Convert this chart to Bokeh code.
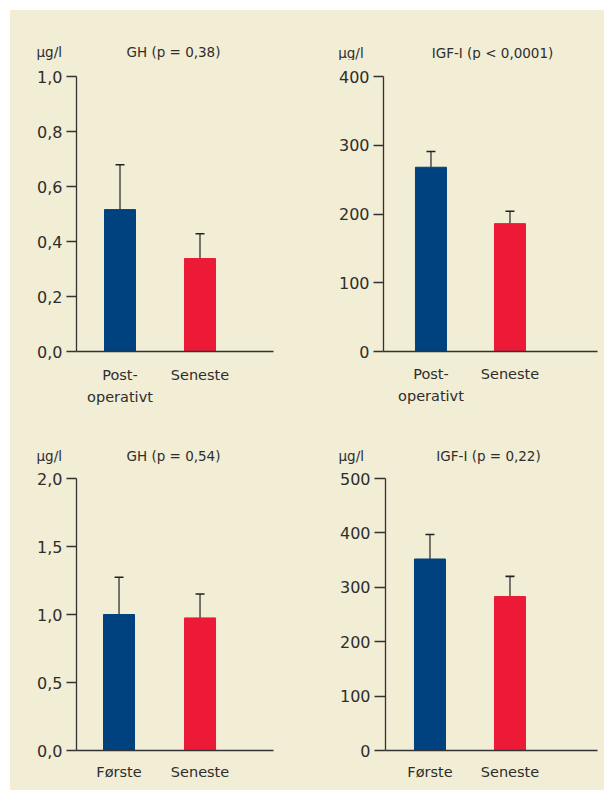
from bokeh.plotting import figure
from bokeh.models import ColumnDataSource, Whisker, TeeHead, FixedTicker, Spacer
from bokeh.core.properties import value
from bokeh.layouts import column, row
from bokeh.embed import file_html
from bokeh.resources import INLINE

# ---------------- data ----------------
cats_top = ["Post-\noperativt", "Seneste"]
cats_bottom = ["Første", "Seneste"]

gh_post_mean = [0.516, 0.338]
gh_post_err = [0.163, 0.090]
igf_post_mean = [268, 186]
igf_post_err = [23, 18]
gh_first_mean = [1.00, 0.975]
gh_first_err = [0.274, 0.176]
igf_first_mean = [352, 283]
igf_first_err = [45, 37]

gh_top_ticks = [0, 0.2, 0.4, 0.6, 0.8, 1.0]
gh_top_labels = ["0,0", "0,2", "0,4", "0,6", "0,8", "1,0"]
igf_top_ticks = [0, 100, 200, 300, 400]
igf_top_labels = ["0", "100", "200", "300", "400"]
gh_bot_ticks = [0, 0.5, 1.0, 1.5, 2.0]
gh_bot_labels = ["0,0", "0,5", "1,0", "1,5", "2,0"]
igf_bot_ticks = [0, 100, 200, 300, 400, 500]
igf_bot_labels = ["0", "100", "200", "300", "400", "500"]

unit = "µg/l"
titles = ["GH (p = 0,38)", "IGF-I (p < 0,0001)", "GH (p = 0,54)", "IGF-I (p = 0,22)"]

# ---------------- style ----------------
BG = "#F2EDD5"
BAR_COLORS = ["#00417F", "#EC1A36"]
INK = "#2d2d2d"
AXIS = "#333333"
FONT = "DejaVu Sans"


def header(title, w, h, unit_x, title_x, base_y):
    """Small strip above a panel holding the unit and the test name (pixel coords)."""
    p = figure(width=w, height=h, output_backend="svg", toolbar_location=None,
               x_range=(0, w), y_range=(0, h), x_axis_location=None, y_axis_location=None)
    p.min_border = 0
    p.background_fill_color = None
    p.border_fill_color = None
    p.outline_line_color = None
    p.xgrid.visible = False
    p.ygrid.visible = False
    p.text(x=[unit_x], y=[base_y], text=[unit], text_align="left", text_baseline="alphabetic",
           text_font=value(FONT), text_font_size="13.5px", text_color=INK)
    p.text(x=[title_x], y=[base_y], text=[title], text_align="center",
           text_baseline="alphabetic", text_font=value(FONT), text_font_size="13.5px",
           text_color=INK)
    return p


def panel(cats, means, errs, ticks, tick_labels, w, h, left, right, top, bottom,
          x_start, x_end, xlab_standoff, tick_out=10):
    ymax = ticks[-1]
    frame_w = w - left - right
    xscale = frame_w / (x_end - x_start)

    p = figure(width=w, height=h, output_backend="svg", toolbar_location=None,
               x_range=(x_start, x_end), y_range=(0, ymax))
    p.min_border = 0
    p.min_border_left = left
    p.min_border_right = right
    p.min_border_top = top
    p.min_border_bottom = bottom
    p.background_fill_color = None
    p.border_fill_color = None
    p.outline_line_color = None
    p.xgrid.visible = False
    p.ygrid.visible = False

    xs = [i + 1 for i in range(len(cats))]
    src = ColumnDataSource(dict(x=xs, top=means, upper=[m + e for m, e in zip(means, errs)],
                                color=BAR_COLORS[:len(cats)]))
    p.vbar(x="x", top="top", bottom=0, width=31 / xscale, color="color", source=src)
    wh = Whisker(base="x", lower="top", upper="upper", source=src,
                 line_color=AXIS, line_width=1.3,
                 upper_head=TeeHead(size=9, line_color="#222222", line_width=1.6),
                 lower_head=None)
    p.add_layout(wh)

    ya = p.yaxis[0]
    ya.ticker = FixedTicker(ticks=ticks)
    ya.major_label_overrides = {t: l for t, l in zip(ticks, tick_labels)}
    ya.minor_tick_line_color = None
    ya.major_tick_in = 0
    ya.major_tick_out = tick_out
    ya.major_label_standoff = 4
    ya.axis_line_color = AXIS
    ya.axis_line_width = 1.3
    ya.major_tick_line_color = AXIS
    ya.major_tick_line_width = 1.3
    ya.major_label_text_font = FONT
    ya.major_label_text_font_size = "16px"
    ya.major_label_text_color = INK

    xa = p.xaxis[0]
    xa.ticker = FixedTicker(ticks=xs)
    xa.major_label_overrides = {x: c for x, c in zip(xs, cats)}
    xa.minor_tick_line_color = None
    xa.major_tick_in = 0
    xa.major_tick_out = 0
    xa.major_label_standoff = xlab_standoff
    xa.axis_line_color = AXIS
    xa.axis_line_width = 1.3
    xa.major_label_text_font = FONT
    xa.major_label_text_font_size = "14.5px"
    xa.major_label_text_color = INK
    xa.major_label_text_line_height = 1.4
    return p


h1 = header(titles[0], w=290, h=50, unit_x=26, title_x=163, base_y=8.3)
h2 = header(titles[1], w=304, h=50, unit_x=37.7, title_x=192, base_y=7.7)
h3 = header(titles[2], w=290, h=46, unit_x=26, title_x=163, base_y=11)
h4 = header(titles[3], w=304, h=46, unit_x=38, title_x=188, base_y=11)

p1 = panel(cats_top, gh_post_mean, gh_post_err, gh_top_ticks, gh_top_labels,
           w=290, h=360, left=66, right=27, top=16, bottom=69,
           x_start=0.456, x_end=2.919, xlab_standoff=15, tick_out=10)
p2 = panel(cats_top, igf_post_mean, igf_post_err, igf_top_ticks, igf_top_labels,
           w=304, h=360, left=83, right=7, top=16, bottom=69,
           x_start=0.399, x_end=3.108, xlab_standoff=14, tick_out=10)
p3 = panel(cats_bottom, gh_first_mean, gh_first_err, gh_bot_ticks, gh_bot_labels,
           w=290, h=324, left=66, right=27, top=8, bottom=40,
           x_start=0.475, x_end=2.907, xlab_standoff=13, tick_out=10)
p4 = panel(cats_bottom, igf_first_mean, igf_first_err, igf_bot_ticks, igf_bot_labels,
           w=304, h=324, left=85, right=7, top=12, bottom=37,
           x_start=0.444, x_end=3.094, xlab_standoff=13, tick_out=11)

bgs = {"background-color": BG}
grid = column(row(h1, h2, styles=bgs), row(p1, p2, styles=bgs),
              row(h3, h4, styles=bgs), row(p3, p4, styles=bgs), styles=bgs)
layout = column(Spacer(height=10, width=604), row(Spacer(width=10, height=780), grid))

open("out.html", "w").write(file_html(layout, INLINE))
